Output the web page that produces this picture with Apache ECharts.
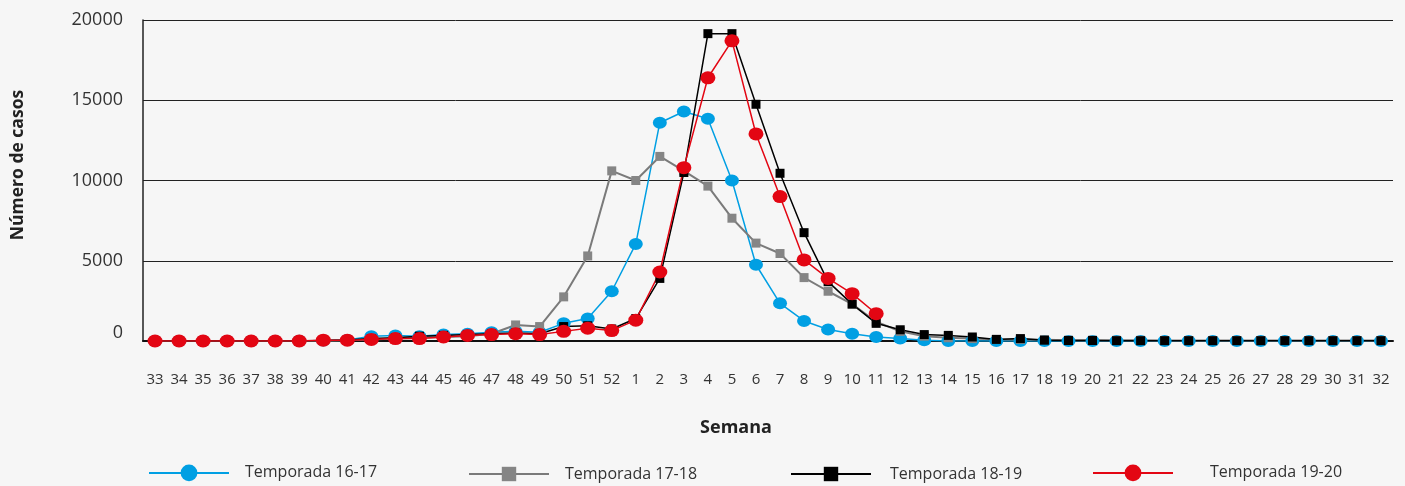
<!DOCTYPE html>
<html>
<head>
	<meta charset="UTF-8">
	<title>Casos por semana</title>
	<style>
		html, body { margin: 0; padding: 0; background: #f6f6f6; }
		#chart { width: 1405px; height: 486px; }
	</style>
</head>
<body>
<div id="chart"></div>
<script type="text/javascript" src="https://cdn.jsdelivr.net/npm/echarts@6/dist/echarts.min.js"></script>
<script type="text/javascript">
// semanas epidemiologicas, de la 33 a la 32
var semanas = ['33','34','35','36','37','38','39','40','41','42','43','44','45','46','47','48','49','50','51','52',
	'1','2','3','4','5','6','7','8','9','10','11','12','13','14','15','16','17','18','19','20',
	'21','22','23','24','25','26','27','28','29','30','31','32'];

var t1617 = [0,0,0,0,0,0,10,30,60,300,350,300,400,450,550,600,550,1100,1400,3100,
	6050,13600,14300,13850,10000,4750,2350,1250,720,450,250,150,50,0,0,0,0,0,0,0,
	0,0,0,0,0,0,0,0,0,0,0,0];
var t1718 = [0,0,0,0,0,0,0,20,40,100,150,200,250,300,450,1000,900,2750,5300,10600,
	10000,11500,10600,9650,7650,6100,5450,3950,3100,2300,1200,600,300,200,150,100,100,80,50,50,
	40,40,30,30,30,30,30,30,30,30,30,30];
var t1819 = [0,0,0,0,0,0,0,30,60,150,200,300,350,400,450,500,450,900,950,750,
	1400,3900,10500,19150,19150,14750,10450,6750,3700,2300,1100,700,400,350,250,100,150,50,30,30,
	20,20,20,20,20,20,20,20,20,20,20,20];
var t1920 = [0,0,0,0,0,0,0,50,50,100,150,150,250,350,400,450,400,600,800,650,
	1300,4300,10800,16400,18700,12900,9000,5050,3900,2950,1700,null,null,null,null,null,null,null,null,null,
	null,null,null,null,null,null,null,null,null,null,null,null];

var fuente = '"Open Sans", "Noto Sans", sans-serif';
var chart = echarts.init(document.getElementById('chart'));

// una leyenda por serie para colocarlas como en el original
function leyenda(nombre, izq, alto, sep) {
	return {
		data: [nombre],
		left: izq,
		top: 475 - alto / 2 - 5,
		itemWidth: 80,
		itemHeight: alto,
		textStyle: { fontFamily: fuente, fontSize: 16, color: '#333', padding: [0, 0, 0, sep] }
	};
}

var option = {
	backgroundColor: '#f6f6f6',
	animation: false,
	grid: { left: 143, right: 12, top: 20, bottom: 145 },
	legend: [
		leyenda('Temporada 16-17', 143, 21, 11),
		leyenda('Temporada 17-18', 463, 18, 11),
		leyenda('Temporada 18-19', 785, 18, 14),
		leyenda('Temporada 19-20', 1087, 21, 32)
	],
	graphic: [{
		type: 'text',
		x: 18,
		y: 165,
		rotation: Math.PI / 2,
		style: {
			text: 'Número de casos',
			font: 'bold 17.5px ' + fuente,
			fill: '#222',
			align: 'center',
			verticalAlign: 'middle'
		}
	}],
	xAxis: {
		type: 'category',
		data: semanas,
		boundaryGap: true,
		name: 'Semana',
		nameLocation: 'middle',
		nameGap: 78,
		nameTextStyle: { fontFamily: fuente, fontSize: 18, fontWeight: 'bold', color: '#222', padding: [0, 64, 0, 0] },
		axisLine: { lineStyle: { color: '#111', width: 2 } },
		axisTick: { inside: true, length: 8, lineStyle: { color: '#111', width: 1.2 } },
		axisLabel: { interval: 0, margin: 31, fontFamily: fuente, fontSize: 15, color: '#333' }
	},
	yAxis: {
		type: 'value',
		min: 0,
		max: 20000,
		interval: 5000,
		axisLine: { show: true, lineStyle: { color: '#222', width: 1.5 } },
		axisTick: { show: false },
		axisLabel: {
			margin: 20,
			fontFamily: fuente,
			fontSize: 18,
			color: '#333',
			formatter: function (v) { return v === 0 ? '{z|0}' : String(v); },
			rich: { z: { fontFamily: fuente, fontSize: 18, color: '#333', padding: [0, 0, 16, 0] } }
		},
		splitLine: { lineStyle: { color: '#222', width: 1 } }
	},
	series: [
		{
			name: 'Temporada 16-17', type: 'line', data: t1617,
			symbol: 'circle', symbolSize: [14, 12],
			itemStyle: { color: '#009fe3' },
			lineStyle: { color: '#009fe3', width: 1.5 }
		},
		{
			name: 'Temporada 17-18', type: 'line', data: t1718,
			symbol: 'rect', symbolSize: 9,
			itemStyle: { color: '#858585' },
			lineStyle: { color: '#7a7a7a', width: 2 }
		},
		{
			name: 'Temporada 18-19', type: 'line', data: t1819,
			symbol: 'rect', symbolSize: 9,
			itemStyle: { color: '#000' },
			lineStyle: { color: '#000', width: 1.5 }
		},
		{
			name: 'Temporada 19-20', type: 'line', data: t1920,
			symbol: 'circle', symbolSize: [15, 13],
			itemStyle: { color: '#e30613' },
			lineStyle: { color: '#e30613', width: 1.5 }
		}
	]
};
chart.setOption(option);
</script>
</body>
</html>
